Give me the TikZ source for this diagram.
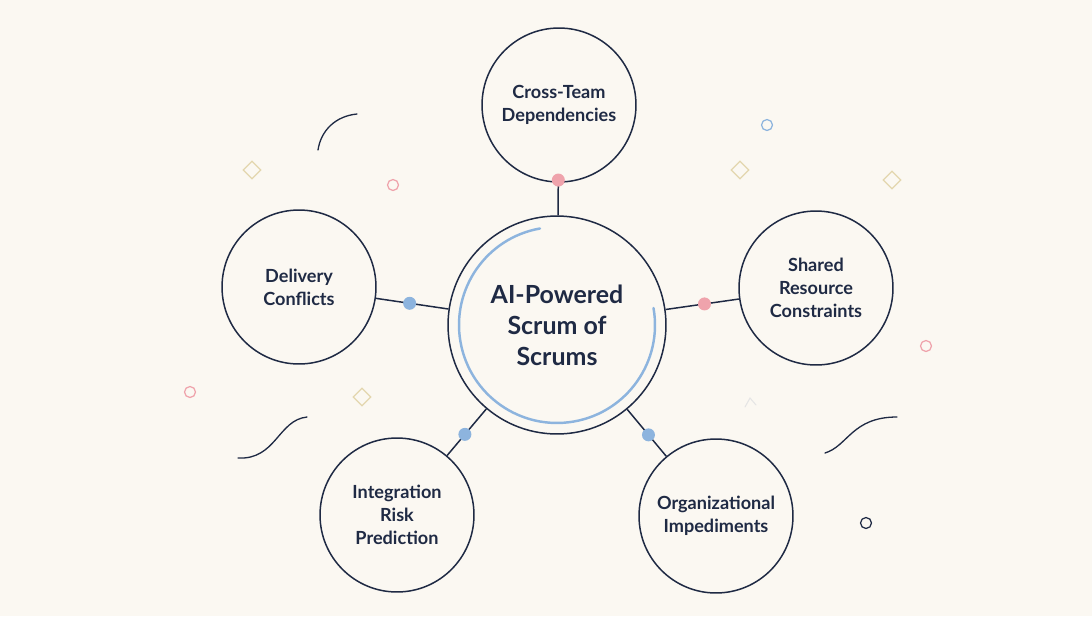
\documentclass[tikz,border=0pt]{standalone}
\usepackage{fontspec}
\setmainfont{Lato}
\usepackage{tikz}
\usetikzlibrary{shapes.geometric}
\usetikzlibrary{calc}
\definecolor{paper}{HTML}{FBF8F2}
\definecolor{ink}{HTML}{1F2A44}
\definecolor{rose}{HTML}{EFA3AC}
\definecolor{sky}{HTML}{8DB4DE}
\definecolor{sand}{HTML}{E3D6AE}
\begin{document}
\begin{tikzpicture}[x=0.02cm,y=0.02cm,
  topic/.style={circle,draw=ink,line width=0.85pt,minimum size=3.08cm,inner sep=0pt,
    align=center,text=ink,font=\bfseries\fontsize{10.3}{13}\selectfont},
  hubnode/.style={topic,minimum size=4.36cm,font=\bfseries\fontsize{14.2}{17.6}\selectfont},
  link/.style={draw=ink,line width=0.85pt},
  joint/.style={circle,inner sep=0pt,minimum size=0.26cm},
  ring/.style={circle,draw,line width=0.7pt,inner sep=0pt,minimum size=0.22cm},
  gem/.style={diamond,draw=sand,line width=0.7pt,inner sep=0pt,minimum size=0.36cm},
  swirl/.style={draw=ink,line width=0.75pt,line cap=round}]
\fill[paper] (0,0) rectangle (1092,-616);
\useasboundingbox (0,0) rectangle (1092,-616);
% scattered marks
\draw[swirl] (318,-150) .. controls (321,-130) and (336,-116) .. (357,-114);
\draw[swirl] (238,-458) .. controls (276,-460) and (278,-420) .. (307,-417);
\draw[swirl] (825,-453) .. controls (848,-446) and (852,-417) .. (897,-417);
\foreach \px/\py in {252/170,362/397,740/170,892/180}
  \node[gem] (gem\px) at (\px,-\py) {};
\foreach \px/\py in {393/185,190/392,926/346}
  \node[ring,draw=rose] (ring\px) at (\px,-\py) {};
\node[ring,draw=sky] (ringtop) at (767,-125) {};
\node[ring,draw=ink] (ringlow) at (866,-523) {};
\draw[black!10,line width=0.6pt,line cap=round] (745,-407) -- (750,-398) -- (756,-405);
% hub and topics
\node[hubnode] (hub) at (557,-325) {AI-Powered\\Scrum of\\Scrums};
\draw[sky,line width=1.4pt,line cap=round] ($(hub.center)+(100:98)$) arc[start angle=100,end angle=370,radius=1.96cm];
\node[topic] (deps) at (559,-105) {Cross-Team\\Dependencies};
\node[topic] (deliv) at (299,-287) {Delivery\\Conflicts};
\node[topic] (share) at (816,-288) {Shared\\Resource\\Constraints};
\node[topic] (integ) at (397,-515) {Integration\\Risk\\Prediction};
\node[topic] (imped) at (716,-516) {Organizational\\Impediments};
\foreach \sat in {deps,deliv,share,integ,imped}
  \draw[link] (hub) -- (\sat);
\node[joint,fill=rose] (jdeps) at ($(hub.center)!2.9cm!(deps.center)$) {};
\node[joint,fill=sky] (jdeliv) at ($(hub.center)!2.98cm!(deliv.center)$) {};
\node[joint,fill=rose] (jshare) at ($(hub.center)!2.98cm!(share.center)$) {};
\node[joint,fill=sky] (jinteg) at ($(hub.center)!2.86cm!(integ.center)$) {};
\node[joint,fill=sky] (jimped) at ($(hub.center)!2.86cm!(imped.center)$) {};
\end{tikzpicture}
\end{document}
